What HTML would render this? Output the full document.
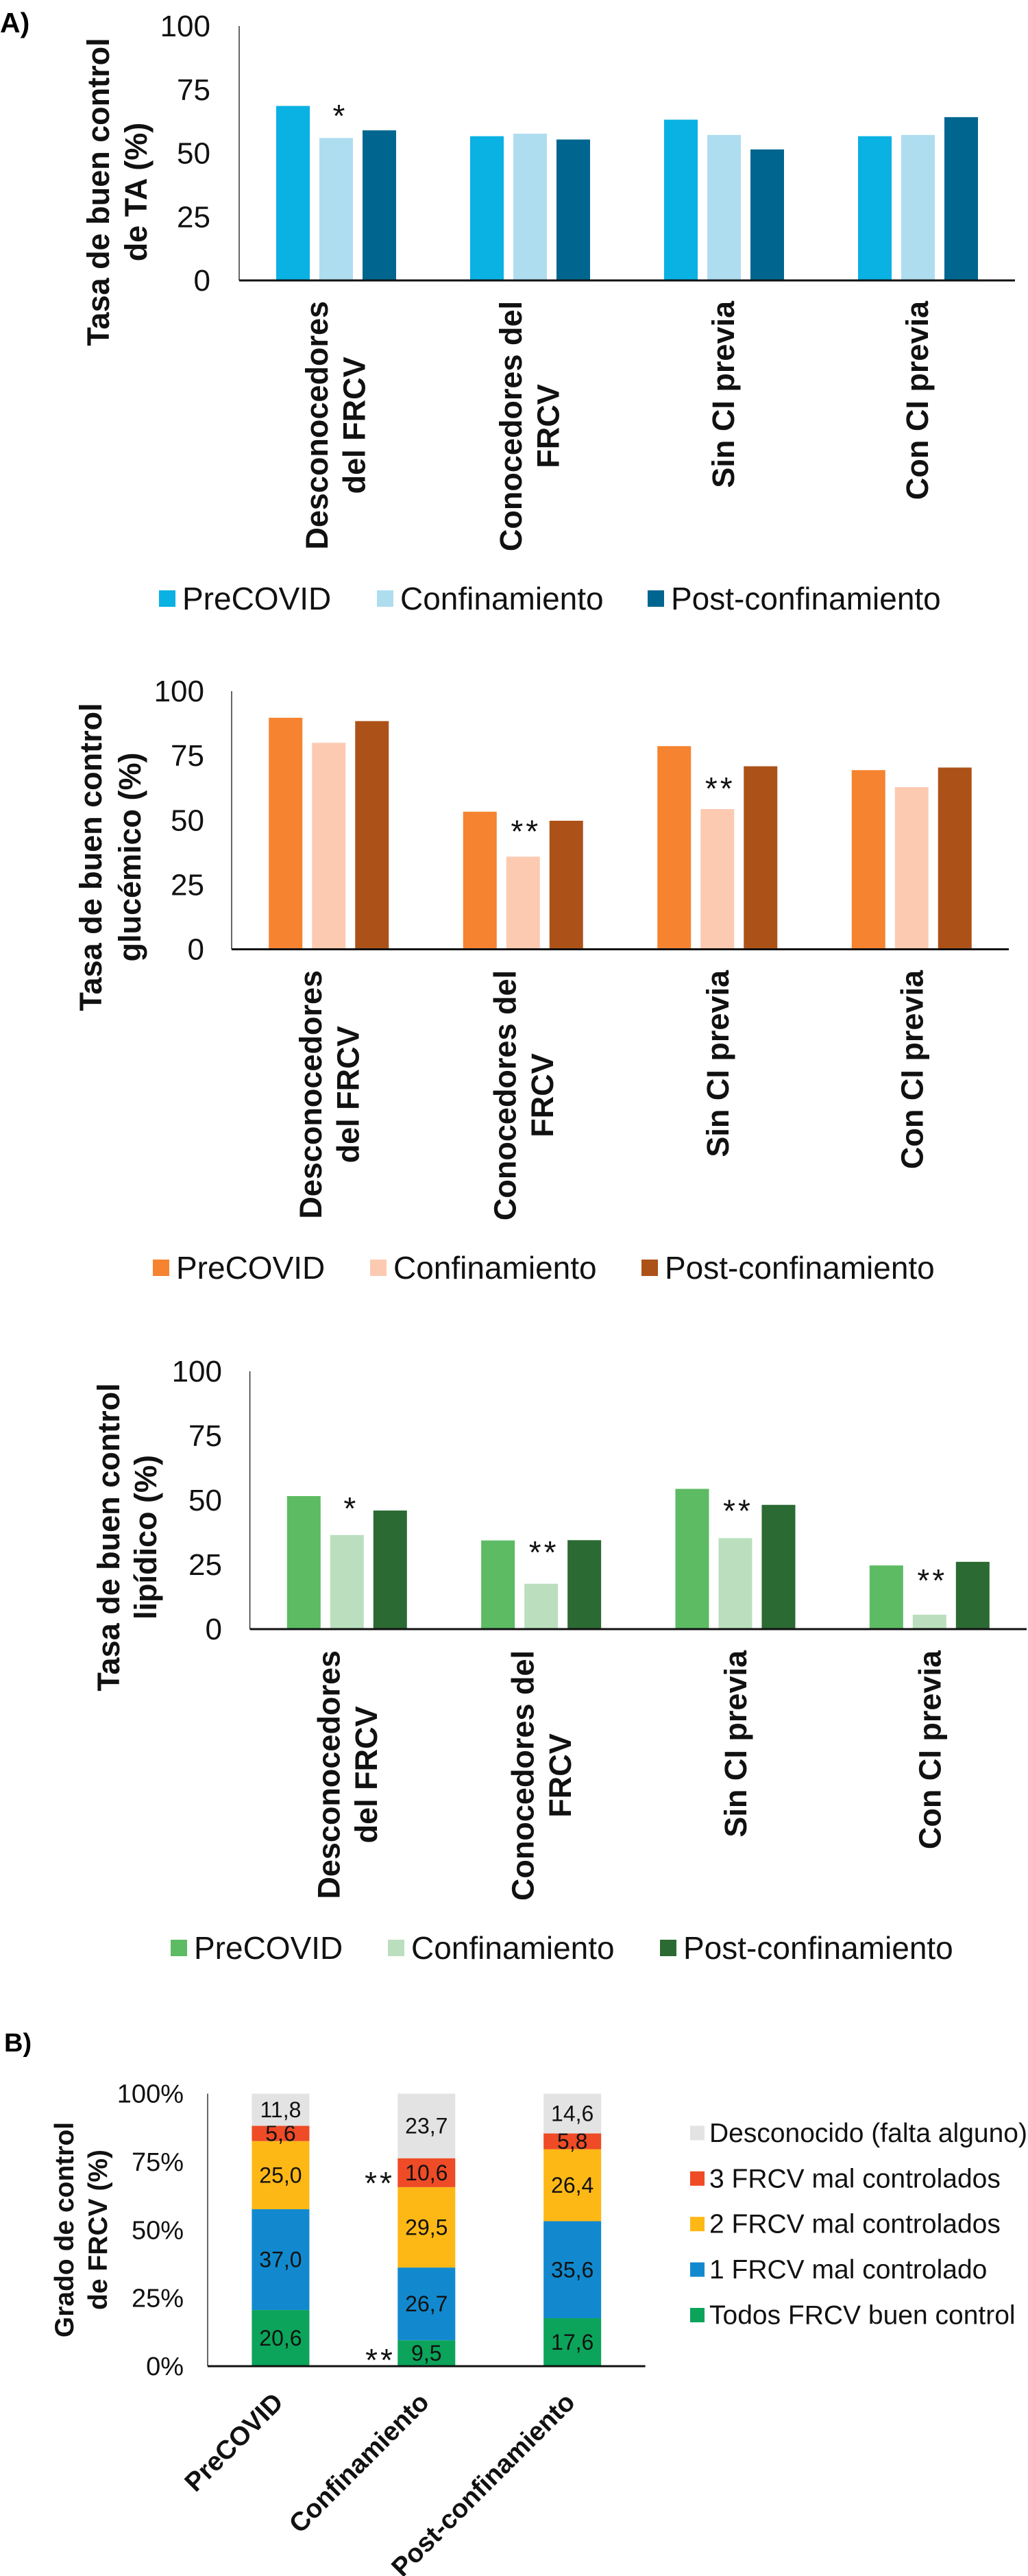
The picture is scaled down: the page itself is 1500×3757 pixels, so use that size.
<!DOCTYPE html>
<html lang="es">
<head>
<meta charset="utf-8">
<title>Tasas de buen control de FRCV</title>
<style>
html,body{margin:0;padding:0;background:#fff;}
svg{display:block;font-family:"Liberation Sans",Arial,sans-serif;}
</style>
</head>
<body>
<svg id="figure" width="1500" height="3757" viewBox="0 0 1500 3757" xmlns="http://www.w3.org/2000/svg">
<rect width="1500" height="3757" fill="#fff"></rect>
<text x="0" y="47" font-size="41" font-weight="700">A)</text>
<text x="6" y="2992" font-size="38" font-weight="700">B)</text>
</svg>
<script>
const groupCategories = [
  ['Desconocedores', 'del FRCV'],
  ['Conocedores del', 'FRCV'],
  ['Sin CI previa'],
  ['Con CI previa']
];
const seriesNames = ['PreCOVID', 'Confinamiento', 'Post-confinamiento'];
const barTicks = [0, 25, 50, 75, 100];

const taPre = [68.6, 56.7, 63.2, 56.7];
const taConf = [56.0, 57.7, 57.2, 57.2];
const taPost = [59.0, 55.4, 51.5, 64.2];
const taStars = ['*', '', '', ''];
const taStarLevels = [66.8, 0, 0, 0];

const gluPre = [89.7, 53.3, 78.7, 69.4];
const gluConf = [80.0, 35.9, 54.3, 62.8];
const gluPost = [88.4, 49.8, 70.9, 70.4];
const gluStars = ['', '**', '**', ''];
const gluStarLevels = [0, 47.8, 64.4, 0];

const lipPre = [51.6, 34.4, 54.4, 24.7];
const lipConf = [36.5, 17.6, 35.3, 5.6];
const lipPost = [46.0, 34.5, 48.2, 26.1];
const lipStars = ['*', '**', '**', '**'];
const lipStarLevels = [48.9, 31.9, 48.0, 21.0];

const stackCategories = ['PreCOVID', 'Confinamiento', 'Post-confinamiento'];
const stackSeriesNames = ['Todos FRCV buen control', '1 FRCV mal controlado', '2 FRCV mal controlados', '3 FRCV mal controlados', 'Desconocido (falta alguno)'];
const stackAllControlled = [20.6, 9.5, 17.6];
const stackOneBad = [37.0, 26.7, 35.6];
const stackTwoBad = [25.0, 29.5, 26.4];
const stackThreeBad = [5.6, 10.6, 5.8];
const stackUnknown = [11.8, 23.7, 14.6];
const stackTicks = ['0%', '25%', '50%', '75%', '100%'];

const svg = document.getElementById('figure');
const NS = 'http://www.w3.org/2000/svg';

function make(tag, props, text) {
  const el = document.createElementNS(NS, tag);
  for (const k in props) el.setAttribute(k, props[k]);
  if (text !== undefined) el.textContent = text;
  svg.appendChild(el);
  return el;
}

function slug(s) {
  return s.toLowerCase().replace(/[^a-z0-9]+/g, '-').replace(/^-|-$/g, '');
}

function drawBarChart(c) {
  const yScale = v => c.base - (v / 100) * (c.base - c.top);
  const band = (c.axisEnd - c.axisX) / groupCategories.length;
  const center = i => c.axisX + band * (i + 0.5);
  const step = 63;
  const barW = 49;

  barTicks.forEach(t => {
    const el = make('text', {x: c.tickX, y: yScale(t) + 15, 'font-size': 44, 'text-anchor': 'end', fill: '#111'}, String(t));
    
    
  });

  c.series.forEach((vals, s) => {
    vals.forEach((v, i) => {
      const cx = center(i) + (s - 1) * step;
      const el = make('rect', {x: cx - barW / 2, y: yScale(v), width: barW, height: c.base - yScale(v), fill: c.colors[s]});
      
      
    });
  });

  const yAxis = make('line', {x1: c.axisX, x2: c.axisX, y1: c.top, y2: c.base, stroke: '#333', 'stroke-width': 1.5});
  
  
  const xAxis = make('line', {x1: c.axisX, x2: c.axisEnd, y1: c.base, y2: c.base, stroke: '#111', 'stroke-width': 3});
  
  

  c.stars.forEach((s, i) => {
    if (!s) return;
    const el = make('text', {x: center(i) + 4, y: yScale(c.starLevels[i]) + 24, 'font-size': 46, 'text-anchor': 'middle', 'letter-spacing': s.length > 1 ? 4 : 0, fill: '#111'}, s);
    
    
  });

  groupCategories.forEach((lines, i) => {
    const temp = lines.map((line, j) => {
      const bx = center(i) + c.catDx + (lines.length > 1 ? -11 + j * 54.5 : 16);
      const el = make('text', {x: 0, y: 0, 'font-size': 45, 'font-weight': 700, 'text-anchor': 'middle', fill: '#111'}, line);
      
      
      return {el: el, bx: bx};
    });
    const maxLen = Math.max.apply(null, temp.map(t => t.el.getComputedTextLength()));
    const my = c.catTop + maxLen / 2;
    temp.forEach(t => {
      t.el.setAttribute('transform', 'translate(' + t.bx + ' ' + my + ') rotate(-90)');
    });
  });

  c.title.forEach((line, j) => {
    const el = make('text', {x: 0, y: 0, 'font-size': 45, 'font-weight': 700, 'text-anchor': 'middle', fill: '#111', transform: 'translate(' + (c.titleX + j * c.titleGap) + ' ' + c.titleY + ') rotate(-90)'}, line);
    
    
  });

  seriesNames.forEach((name, s) => {
    const sq = make('rect', {x: c.legendSq[s], y: c.legendY - 12, width: 24, height: 24, fill: c.colors[s]});
    
    
    const tx = make('text', {x: c.legendSq[s] + 34, y: c.legendY + 16, 'font-size': 46, fill: '#111'}, name);
    
    
  });
}

drawBarChart({
  id: 'ta-chart', series: [taPre, taConf, taPost], colors: ['#0AB1E3', '#AEDDF0', '#00668F'],
  stars: taStars, starLevels: taStarLevels,
  axisX: 349, axisEnd: 1481, top: 38, base: 409, tickX: 307, catTop: 439, catDx: -1.5,
  title: ['Tasa de buen control', 'de TA (%)'], titleX: 159, titleGap: 55, titleY: 280,
  legendSq: [232, 550, 945], legendY: 873
});
drawBarChart({
  id: 'glucose-chart', series: [gluPre, gluConf, gluPost], colors: ['#F58330', '#FCCAB1', '#AC5218'],
  stars: gluStars, starLevels: gluStarLevels,
  axisX: 338, axisEnd: 1472, top: 1008, base: 1384.5, tickX: 298, catTop: 1415, catDx: 0,
  title: ['Tasa de buen control', 'glucémico (%)'], titleX: 148, titleGap: 57, titleY: 1250,
  legendSq: [223, 540, 936], legendY: 1849
});
drawBarChart({
  id: 'lipid-chart', series: [lipPre, lipConf, lipPost], colors: ['#5DBB63', '#BBDFBE', '#2C6A33'],
  stars: lipStars, starLevels: lipStarLevels,
  axisX: 364.6, axisEnd: 1498, top: 2000, base: 2376, tickX: 324, catTop: 2407, catDx: 0,
  title: ['Tasa de buen control', 'lipídico (%)'], titleX: 174, titleGap: 54, titleY: 2242,
  legendSq: [249, 566, 963], legendY: 2841
});

const stackLayers = [stackAllControlled, stackOneBad, stackTwoBad, stackThreeBad, stackUnknown];
const stackColors = ['#0BA45A', '#1289CE', '#FDB816', '#EE4B26', '#E3E3E3'];
const stackAxisX = 303, stackAxisEnd = 941.6, stackTop = 3053.5, stackBase = 3451, stackBarW = 84;
const stackY = v => stackBase - (v / 100) * (stackBase - stackTop);
const stackCenter = i => stackAxisX + (stackAxisEnd - stackAxisX) / stackCategories.length * (i + 0.5);

stackTicks.forEach((t, i) => {
  const el = make('text', {x: 268, y: stackY(i * 25) + 13, 'font-size': 38, 'text-anchor': 'end', fill: '#111'}, t);
  
  
});

stackCategories.forEach((cat, i) => {
  let acc = 0;
  stackLayers.forEach((layer, s) => {
    const v = layer[i];
    const rect = make('rect', {x: stackCenter(i) - stackBarW / 2, y: stackY(acc + v), width: stackBarW, height: stackY(acc) - stackY(acc + v), fill: stackColors[s]});
    
    
    const lbl = make('text', {x: stackCenter(i), y: stackY(acc + v / 2) + 11, 'font-size': 32, 'text-anchor': 'middle', fill: '#111'}, v.toFixed(1).replace('.', ','));
    
    
    acc += v;
  });
  const xl = make('text', {x: 0, y: 0, 'font-size': 38.5, 'font-weight': 700, 'text-anchor': 'end', fill: '#111', transform: 'translate(' + (stackCenter(i) + 6) + ' 3506) rotate(-45)'}, cat);
  
  
});

const stackYAxis = make('line', {x1: stackAxisX, x2: stackAxisX, y1: stackTop, y2: stackBase, stroke: '#333', 'stroke-width': 1.5});


const stackXAxis = make('line', {x1: stackAxisX, x2: stackAxisEnd, y1: stackBase, y2: stackBase, stroke: '#111', 'stroke-width': 3});



['Grado de control', 'de FRCV (%)'].forEach((line, j) => {
  const el = make('text', {x: 0, y: 0, 'font-size': 39, 'font-weight': 700, 'text-anchor': 'middle', fill: '#111', transform: 'translate(' + (107 + j * 49) + ' 3252) rotate(-90)'}, line);
  
  
});

const stackStarA = make('text', {x: 554, y: 3200, 'font-size': 46, 'text-anchor': 'middle', 'letter-spacing': 4, fill: '#111'}, '**');


const stackStarB = make('text', {x: 555, y: 3458, 'font-size': 46, 'text-anchor': 'middle', 'letter-spacing': 4, fill: '#111'}, '**');



stackSeriesNames.forEach((name, s) => {
  const cy = 3376.5 - s * 66.4;
  const sq = make('rect', {x: 1007, y: cy - 10.5, width: 21, height: 21, fill: stackColors[s]});
  
  
  const tx = make('text', {x: 1035, y: cy + 13, 'font-size': 39, fill: '#111'}, name);
  
  
});
</script>
</body>
</html>
